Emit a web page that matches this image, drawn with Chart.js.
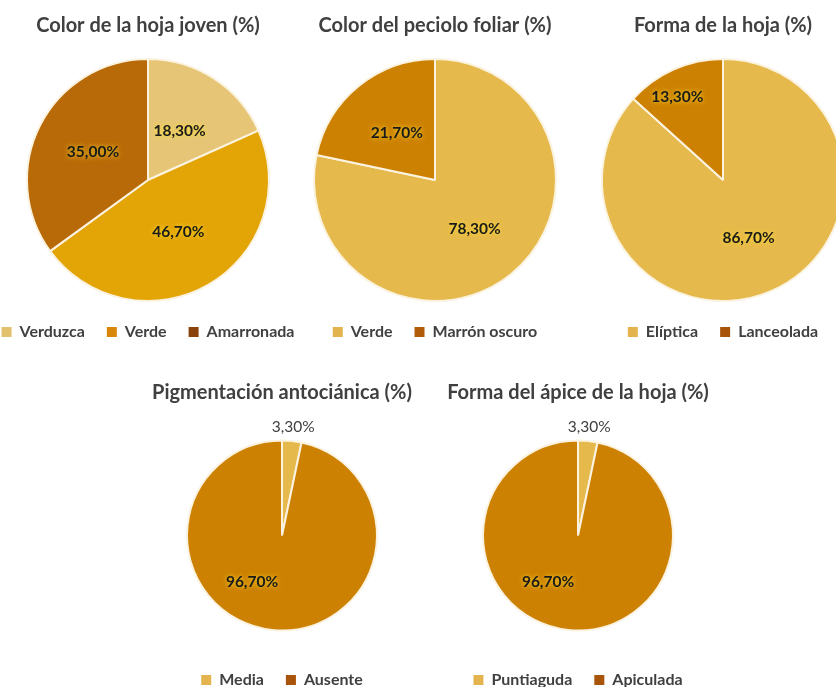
<!DOCTYPE html>
<html>
<head>
<meta charset="utf-8">
<script src="https://cdn.jsdelivr.net/npm/chart.js@4.4.1/dist/chart.umd.min.js"></script>
<style>
html, body { margin: 0; padding: 0; background: #fff; width: 836px; height: 687px; overflow: hidden; position: relative }
canvas { position: absolute }
</style>
</head>
<body>
<canvas id="hojaJoven" width="360" height="350" style="left:-32px;top:0"></canvas>
<canvas id="peciolo" width="360" height="350" style="left:255px;top:0"></canvas>
<canvas id="formaHoja" width="360" height="350" style="left:543px;top:0"></canvas>
<canvas id="pigmentacion" width="360" height="348" style="left:102px;top:350px"></canvas>
<canvas id="apice" width="360" height="348" style="left:398px;top:350px"></canvas>
<script>
// data
const hojaJovenLabels = ["Verduzca", "Verde", "Amarronada"]
const hojaJovenValues = [18.3, 46.7, 35.0]
const pecioloLabels = ["Verde", "Marrón oscuro"]
const pecioloValues = [78.3, 21.7]
const formaHojaLabels = ["Elíptica", "Lanceolada"]
const formaHojaValues = [86.7, 13.3]
const pigmentacionLabels = ["Media", "Ausente"]
const pigmentacionValues = [3.3, 96.7]
const apiceLabels = ["Puntiaguda", "Apiculada"]
const apiceValues = [3.3, 96.7]

const FONT = "Lato"
const fmt = v => v.toFixed(2).replace(".", ",") + "%"

// percentage labels on each slice
const sliceLabels = {
	id: "sliceLabels",
	afterDatasetsDraw(chart, args, opts) {
		const ctx = chart.ctx
		const values = chart.data.datasets[0].data
		chart.getDatasetMeta(0).data.forEach((arc, i) => {
			const p = arc.getProps(["x", "y", "startAngle", "endAngle", "outerRadius"], true)
			const place = opts.place[i] || {}
			const r = place.r || 0.5
			const angle = (p.startAngle + p.endAngle) / 2 + (place.turn || 0) * Math.PI / 180
			const x = p.x + Math.cos(angle) * p.outerRadius * r
			const y = p.y + Math.sin(angle) * p.outerRadius * r
			const inside = r < 1
			ctx.save()
			ctx.font = (inside ? "bold " : "") + "15.5px " + FONT
			ctx.textAlign = "center"
			ctx.textBaseline = "middle"
			if (inside) {
				ctx.shadowColor = "rgba(255,228,40,0.9)"
				ctx.shadowBlur = 5
			}
			ctx.fillStyle = inside ? "#1a1a1a" : "#404040"
			ctx.fillText(fmt(values[i]), x, y)
			ctx.restore()
		})
	}
}

const makePie = (id, title, labels, values, colors, legendColors, radius, titlePad, place) => new Chart(document.getElementById(id), {
	type: "pie",
	data: {
		labels,
		datasets: [{
			data: values,
			backgroundColor: colors,
			borderColor: "#FBF3E0",
			borderWidth: 2,
			hoverOffset: 0,
			radius
		}]
	},
	options: {
		responsive: false,
		animation: false,
		events: [],
		plugins: {
			title: {
				display: true,
				text: title,
				color: "#404040",
				font: { family: FONT, size: 20, weight: "bold" },
				padding: titlePad
			},
			legend: {
				position: "bottom",
				labels: {
					boxWidth: 10,
					boxHeight: 10,
					padding: 22,
					color: "#404040",
					font: { family: FONT, size: 16, weight: "bold" },
					generateLabels: chart => Chart.overrides.pie.plugins.legend.labels.generateLabels(chart).map((item, i) => {
						item.fillStyle = legendColors[i]
						item.strokeStyle = legendColors[i]
						item.lineWidth = 0
						return item
					})
				}
			},
			tooltip: { enabled: false },
			sliceLabels: { place }
		}
	},
	plugins: [sliceLabels]
})

const topPad = { top: 14, bottom: 20 }
const bottomPad = { top: 31, bottom: 16 }

makePie("hojaJoven", "Color de la hoja joven (%)", hojaJovenLabels, hojaJovenValues,
	["#E6C676", "#E3A406", "#B96A08"], ["#E2C06C", "#D8870A", "#8A430C"], 121, topPad,
	[{ r: 0.48 }, { r: 0.5 }, { r: 0.51 }])
makePie("peciolo", "Color del peciolo foliar (%)", pecioloLabels, pecioloValues,
	["#E6B94C", "#CD8103"], ["#E3B44E", "#B05C08"], 121, topPad,
	[{ r: 0.52 }, { r: 0.5 }])
makePie("formaHoja", "Forma de la hoja (%)", formaHojaLabels, formaHojaValues,
	["#E6B94C", "#CD8103"], ["#E3B44E", "#A8540A"], 121, topPad,
	[{ r: 0.52 }, { r: 0.78, turn: -5 }])
makePie("pigmentacion", "Pigmentación antociánica (%)", pigmentacionLabels, pigmentacionValues,
	["#E6B94C", "#CD8103"], ["#E3B44E", "#A8540A"], 95, bottomPad,
	[{ r: 1.15 }, { r: 0.58, turn: 27 }])
makePie("apice", "Forma del ápice de la hoja (%)", apiceLabels, apiceValues,
	["#E6B94C", "#CD8103"], ["#E3B44E", "#A8540A"], 95, bottomPad,
	[{ r: 1.15 }, { r: 0.58, turn: 27 }])
</script>
</body>
</html>
